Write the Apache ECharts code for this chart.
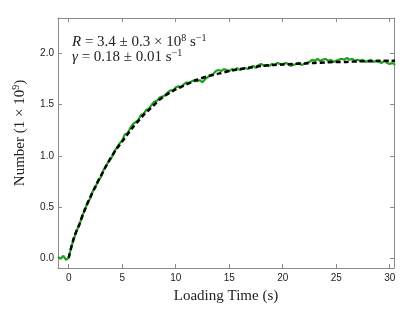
<!DOCTYPE html>
<html><head><meta charset="utf-8">
<script src="https://cdn.jsdelivr.net/npm/echarts@6/dist/echarts.min.js"></script>
<style>html,body{margin:0;padding:0;background:#fff}#c{width:415px;height:312px}</style>
</head><body><div id="c"></div>
<script>
// Measured data (green), time in s, number in 1e9
const dataTime = [-1,-0.75,-0.5,-0.25,0,0.25,0.5,0.75,1,1.25,1.5,1.75,2,2.25,2.5,2.75,3,3.25,3.5,3.75,4,4.25,4.5,4.75,5,5.25,5.5,5.75,6,6.25,6.5,6.75,7,7.25,7.5,7.75,8,8.25,8.5,8.75,9,9.25,9.5,9.75,10,10.25,10.5,10.75,11,11.25,11.5,11.75,12,12.25,12.5,12.75,13,13.25,13.5,13.75,14,14.25,14.5,14.75,15,15.25,15.5,15.75,16,16.25,16.5,16.75,17,17.25,17.5,17.75,18,18.25,18.5,18.75,19,19.25,19.5,19.75,20,20.25,20.5,20.75,21,21.25,21.5,21.75,22,22.25,22.5,22.75,23,23.25,23.5,23.75,24,24.25,24.5,24.75,25,25.25,25.5,25.75,26,26.25,26.5,26.75,27,27.25,27.5,27.75,28,28.25,28.5,28.75,29,29.25,29.5,29.75,30,30.25,30.5];
const dataNumber = [0.01,-0.01,0.02,-0.02,0.00,0.11,0.19,0.27,0.32,0.41,0.46,0.54,0.58,0.65,0.69,0.76,0.79,0.86,0.90,0.95,0.98,1.04,1.08,1.12,1.15,1.21,1.22,1.27,1.31,1.33,1.35,1.40,1.41,1.45,1.46,1.50,1.53,1.54,1.57,1.58,1.59,1.62,1.64,1.64,1.67,1.68,1.67,1.70,1.72,1.71,1.73,1.74,1.73,1.74,1.72,1.75,1.77,1.79,1.80,1.83,1.84,1.83,1.85,1.84,1.83,1.85,1.84,1.86,1.84,1.85,1.86,1.85,1.87,1.88,1.86,1.89,1.90,1.88,1.89,1.88,1.90,1.89,1.91,1.90,1.89,1.91,1.90,1.88,1.89,1.90,1.91,1.89,1.90,1.91,1.92,1.94,1.93,1.95,1.93,1.94,1.95,1.93,1.94,1.92,1.93,1.94,1.95,1.94,1.96,1.94,1.95,1.93,1.94,1.93,1.94,1.92,1.93,1.94,1.92,1.93,1.92,1.91,1.93,1.91,1.90,1.91,1.89];
// Fit curve (black dashed)
const fitTime = [0,0.5,1,1.5,2,2.5,3,3.5,4,4.5,5,5.5,6,6.5,7,7.5,8,8.5,9,9.5,10,11,12,13,14,15,16,17,18,19,20,21,22,23,24,25,26,27,28,29,30,30.5];
const fitNumber = [0,0.20,0.33,0.47,0.59,0.70,0.80,0.90,0.99,1.07,1.14,1.21,1.28,1.34,1.40,1.45,1.50,1.55,1.59,1.62,1.65,1.70,1.745,1.78,1.805,1.83,1.85,1.865,1.88,1.89,1.895,1.90,1.905,1.91,1.915,1.92,1.92,1.925,1.925,1.93,1.93,1.93];
const xTicks = [0,5,10,15,20,25,30];
const yTicks = [0.0,0.5,1.0,1.5,2.0];

const chart = echarts.init(document.getElementById('c'), null, {renderer:'canvas'});
const frame = '#8a8a8a';
const lblFont = {fontFamily:'Liberation Sans', fontSize:10, color:'#222'};
const serif = 'Liberation Serif';
function axX(pos, show){
  return {type:'value', position:pos, min:-1, max:30.4,
    axisLine:{show:true, onZero:false, lineStyle:{color:frame, width:1}},
    axisTick:{show:true, inside:true, length:4, customValues:xTicks, lineStyle:{color:frame}},
    axisLabel:Object.assign({show:show, customValues:xTicks, margin:5, formatter:v=>String(v)}, lblFont),
    splitLine:{show:false}};
}
function axY(pos, show){
  return {type:'value', position:pos, min:-0.1, max:2.35,
    axisLine:{show:true, onZero:false, lineStyle:{color:frame, width:1}},
    axisTick:{show:true, inside:true, length:4, customValues:yTicks, lineStyle:{color:frame}},
    axisLabel:Object.assign({show:show, customValues:yTicks, margin:4, formatter:v=>v.toFixed(1)}, lblFont),
    splitLine:{show:false}};
}
const xa = axX('bottom', true);
xa.name = 'Loading Time (s)'; xa.nameLocation='middle'; xa.nameGap=21;
xa.nameTextStyle = {fontFamily:serif, fontSize:15, color:'#222'};
const ya = axY('left', true);

const supStyle = {fontFamily:serif, fontSize:10, padding:[0,0,8,0], fill:'#222'};
chart.setOption({
  animation:false,
  grid:{left:58, right:21, top:18, bottom:44, containLabel:false},
  xAxis:[xa, axX('top', false)],
  yAxis:[ya, axY('right', false)],
  series:[
    {type:'line', xAxisIndex:0, yAxisIndex:0, data:dataTime.map((t,i)=>[t,dataNumber[i]]),
      showSymbol:false, lineStyle:{color:'#22a022', width:2.2}, z:2},
    {type:'line', xAxisIndex:0, yAxisIndex:0, data:fitTime.map((t,i)=>[t,fitNumber[i]]),
      smooth:0.3, showSymbol:false, lineStyle:{color:'#000', width:2.5, type:[5,3]}, z:3},
    {type:'line', xAxisIndex:1, yAxisIndex:1, data:[], showSymbol:false}
  ],
  graphic:[
    {type:'text', left:72, top:33, style:{
      text:'{i|R} = 3.4 ± 0.3 × 10{s|8} s{s|−1}',
      rich:{i:{fontFamily:serif, fontStyle:'italic', fontSize:15, fill:'#222'}, s:supStyle},
      fontFamily:serif, fontSize:15, fill:'#222'}},
    {type:'text', left:72, top:48, style:{
      text:'{i|γ} = 0.18 ± 0.01 s{s|−1}',
      rich:{i:{fontFamily:serif, fontStyle:'italic', fontSize:15, fill:'#222'}, s:supStyle},
      fontFamily:serif, fontSize:15, fill:'#222'}},
    {type:'text', x:20, y:133, rotation:Math.PI/2, style:{
      text:'Number (1 × 10{s|9})', align:'center', verticalAlign:'middle',
      rich:{s:supStyle},
      fontFamily:serif, fontSize:15, fill:'#222'}}
  ]
});
</script></body></html>
